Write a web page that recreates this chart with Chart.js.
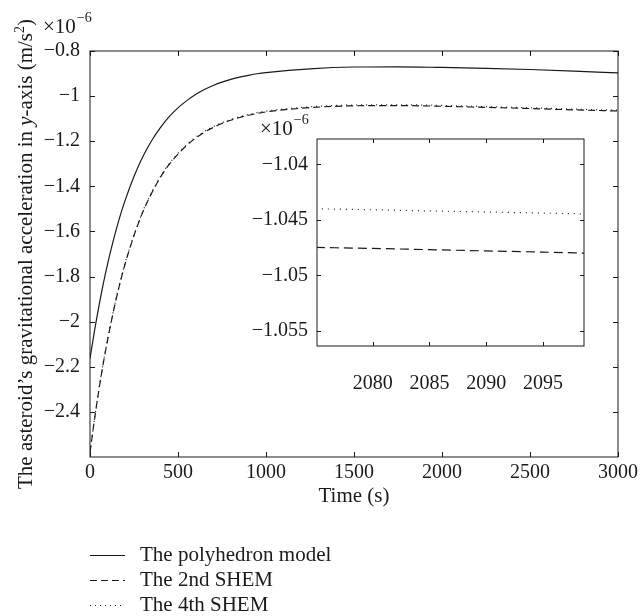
<!DOCTYPE html>
<html>
<head>
<meta charset="utf-8">
<script src="https://cdn.jsdelivr.net/npm/chart.js@4.4.0/dist/chart.umd.min.js"></script>
<style>
body { margin: 0; background: #fff; }
#wrap { position: relative; width: 642px; height: 616px; }
#main { position: absolute; left: 0; top: 0; }
#inset { position: absolute; left: 230px; top: 110px; }
</style>
</head>
<body>
<div id="wrap">
<canvas id="main" width="642" height="616"></canvas>
<canvas id="inset" width="370" height="300"></canvas>
</div>
<script>
// values in units of 1e-6 m/s^2
const times = [0, 25, 50, 75, 100, 125, 150, 175, 200, 250, 300, 350, 400, 450, 500, 550, 600, 650, 700, 750, 800, 850, 900, 950, 1000, 1250, 1500, 1750, 2000, 2250, 2500, 2750, 3000];
const polyhedron = [-2.164, -2.043, -1.934, -1.834, -1.744, -1.663, -1.589, -1.521, -1.461, -1.356, -1.269, -1.198, -1.14, -1.091, -1.052, -1.02, -0.993, -0.971, -0.953, -0.938, -0.926, -0.916, -0.908, -0.901, -0.896, -0.879, -0.871, -0.87, -0.873, -0.877, -0.882, -0.889, -0.897];
const shem2 = [-2.58, -2.437, -2.306, -2.187, -2.081, -1.984, -1.895, -1.815, -1.742, -1.618, -1.514, -1.431, -1.36, -1.303, -1.257, -1.218, -1.186, -1.16, -1.139, -1.121, -1.107, -1.095, -1.085, -1.077, -1.07, -1.051, -1.043, -1.042, -1.045, -1.05, -1.055, -1.061, -1.066];
const shem4 = [-2.5765, -2.4335, -2.3025, -2.1835, -2.0775, -1.9805, -1.8915, -1.8115, -1.7385, -1.6145, -1.5105, -1.4275, -1.3565, -1.2995, -1.2535, -1.2145, -1.1825, -1.1565, -1.1355, -1.1175, -1.1035, -1.0915, -1.0815, -1.0735, -1.0665, -1.0475, -1.0395, -1.0385, -1.0415, -1.0465, -1.0515, -1.0575, -1.0625];
const xTicks = [0, 500, 1000, 1500, 2000, 2500, 3000];
const yTicks = [-2.4, -2.2, -2, -1.8, -1.6, -1.4, -1.2, -1, -0.8];

const insetTimes = [2075, 2080, 2085, 2090, 2095, 2099];
const insetShem2 = [-1.04748, -1.04757, -1.04768, -1.04779, -1.0479, -1.048];
const insetShem4 = [-1.044, -1.04409, -1.04419, -1.04429, -1.04439, -1.04447];
const insetXTicks = [2080, 2085, 2090, 2095];
const insetYTicks = [-1.055, -1.05, -1.045, -1.04];

const seriesNames = ['The polyhedron model', 'The 2nd SHEM', 'The 4th SHEM'];

const SERIF = "'Liberation Serif', 'DejaVu Serif', serif";
const INK = '#1a1a1a';
Chart.defaults.font.family = SERIF;
Chart.defaults.font.size = 20;
Chart.defaults.color = INK;

function pts(xs, ys) { return xs.map((x, i) => ({ x: x, y: ys[i] })); }
function minus(v) { return (v < 0 ? '\u2212' : '') + Math.abs(v); }

// box + inward ticks on all four sides
const frame = {
  id: 'frame',
  afterDatasetsDraw(chart, args, opts) {
    const { ctx, chartArea: a, scales } = chart;
    const len = opts.len || 5;
    ctx.save();
    ctx.strokeStyle = INK;
    ctx.lineWidth = 1;
    ctx.strokeRect(a.left, a.top, a.right - a.left, a.bottom - a.top);
    ctx.beginPath();
    scales.x.ticks.forEach(t => {
      const px = Math.round(scales.x.getPixelForValue(t.value)) + 0.5;
      ctx.moveTo(px, a.bottom); ctx.lineTo(px, a.bottom - len);
      ctx.moveTo(px, a.top); ctx.lineTo(px, a.top + len);
    });
    scales.y.ticks.forEach(t => {
      const py = Math.round(scales.y.getPixelForValue(t.value)) + 0.5;
      ctx.moveTo(a.left, py); ctx.lineTo(a.left + len, py);
      ctx.moveTo(a.right, py); ctx.lineTo(a.right - len, py);
    });
    ctx.stroke();
    ctx.restore();
  }
};

// "x10^-6" multiplier
const expo = {
  id: 'expo',
  afterDraw(chart, args, opts) {
    const ctx = chart.ctx;
    ctx.save();
    ctx.fillStyle = INK;
    ctx.textBaseline = 'alphabetic';
    ctx.textAlign = 'left';
    ctx.font = '21px ' + SERIF;
    ctx.fillText('\u00d710', opts.x, opts.y);
    const w = ctx.measureText('\u00d710').width;
    ctx.font = '14px ' + SERIF;
    ctx.fillText('\u22126', opts.x + w + 1, opts.y - 11);
    ctx.restore();
  }
};

// rotated y title with italic y and superscript 2
const yTitle = {
  id: 'yTitle',
  afterDraw(chart, args, opts) {
    if (!opts.show) return;
    const ctx = chart.ctx;
    const a = chart.chartArea;
    const parts = [
      ['The asteroid\u2019s gravitational acceleration in ', '21px', 0],
      ['y', 'italic 21px', 0],
      ['-axis (m/s', '21px', 0],
      ['2', '14px', -8],
      [')', '21px', 0]
    ];
    ctx.save();
    let total = 0;
    parts.forEach(p => { ctx.font = p[1] + ' ' + SERIF; total += ctx.measureText(p[0]).width; });
    ctx.translate(opts.x, (a.top + a.bottom) / 2);
    ctx.rotate(-Math.PI / 2);
    ctx.fillStyle = INK;
    ctx.textBaseline = 'alphabetic';
    ctx.textAlign = 'left';
    let cx = -total / 2;
    parts.forEach(p => {
      ctx.font = p[1] + ' ' + SERIF;
      ctx.fillText(p[0], cx, p[2]);
      cx += ctx.measureText(p[0]).width;
    });
    ctx.restore();
  }
};

// stacked legend under the plot
const sideLegend = {
  id: 'sideLegend',
  afterDraw(chart, args, opts) {
    if (!opts.show) return;
    const ctx = chart.ctx;
    ctx.save();
    chart.data.datasets.forEach((ds, i) => {
      const y = opts.y + i * opts.step;
      ctx.strokeStyle = INK;
      ctx.lineWidth = 1.2;
      ctx.setLineDash(ds.borderDash || []);
      ctx.beginPath();
      ctx.moveTo(opts.x, y + 0.5);
      ctx.lineTo(opts.x + 35, y + 0.5);
      ctx.stroke();
      ctx.setLineDash([]);
      ctx.fillStyle = INK;
      ctx.font = '21px ' + SERIF;
      ctx.textBaseline = 'middle';
      ctx.fillText(ds.label, opts.x + 50, y);
    });
    ctx.restore();
  }
};

Chart.register(frame, expo, yTitle, sideLegend);

function lineSet(label, data, dash) {
  return {
    label: label, data: data, borderColor: INK, borderWidth: 1.2,
    borderDash: dash, pointRadius: 0, fill: false, cubicInterpolationMode: 'monotone'
  };
}

new Chart(document.getElementById('main'), {
  type: 'line',
  data: {
    datasets: [
      lineSet(seriesNames[0], pts(times, polyhedron), []),
      lineSet(seriesNames[1], pts(times, shem2), [7, 4]),
      lineSet(seriesNames[2], pts(times, shem4), [1, 4])
    ]
  },
  options: {
    responsive: false,
    animation: false,
    layout: { padding: { left: 0, top: 51, right: 23, bottom: 107 } },
    plugins: {
      legend: { display: false },
      tooltip: { enabled: false },
      frame: { len: 5 },
      expo: { x: 43, y: 33 },
      yTitle: { show: true, x: 32 },
      sideLegend: { show: true, x: 90, y: 555, step: 25 }
    },
    scales: {
      x: {
        type: 'linear', min: 0, max: 3000,
        afterBuildTicks: s => { s.ticks = xTicks.map(v => ({ value: v })); },
        afterFit: s => { s.height = 52; },
        grid: { display: false, drawTicks: false },
        border: { display: false },
        ticks: { padding: 4, maxRotation: 0, callback: v => String(v) },
        title: { display: true, text: 'Time (s)', padding: 0, font: { size: 21 } }
      },
      y: {
        type: 'linear', min: -2.6, max: -0.8,
        afterBuildTicks: s => { s.ticks = yTicks.map(v => ({ value: v })); },
        afterFit: s => { s.width = 90; },
        grid: { display: false, drawTicks: false },
        border: { display: false },
        ticks: { padding: 10, callback: v => minus(v) }
      }
    }
  }
});

new Chart(document.getElementById('inset'), {
  type: 'line',
  data: {
    datasets: [
      lineSet(seriesNames[1], pts(insetTimes, insetShem2), [9, 5]),
      lineSet(seriesNames[2], pts(insetTimes, insetShem4), [1, 5])
    ]
  },
  options: {
    responsive: false,
    animation: false,
    layout: { padding: { left: 0, top: 29, right: 16, bottom: 0 } },
    plugins: {
      legend: { display: false },
      tooltip: { enabled: false },
      frame: { len: 4 },
      expo: { x: 30, y: 25 },
      yTitle: { show: false },
      sideLegend: { show: false }
    },
    scales: {
      x: {
        type: 'linear', min: 2075.1, max: 2098.6,
        afterBuildTicks: s => { s.ticks = insetXTicks.map(v => ({ value: v })); },
        afterFit: s => { s.height = 64; },
        grid: { display: false, drawTicks: false },
        border: { display: false },
        ticks: { padding: 26, maxRotation: 0, callback: v => String(v) }
      },
      y: {
        type: 'linear', min: -1.05635, max: -1.03772,
        afterBuildTicks: s => { s.ticks = insetYTicks.map(v => ({ value: v })); },
        afterFit: s => { s.width = 87; },
        grid: { display: false, drawTicks: false },
        border: { display: false },
        ticks: { padding: 9, callback: v => minus(v) }
      }
    }
  }
});
</script>
</body>
</html>
